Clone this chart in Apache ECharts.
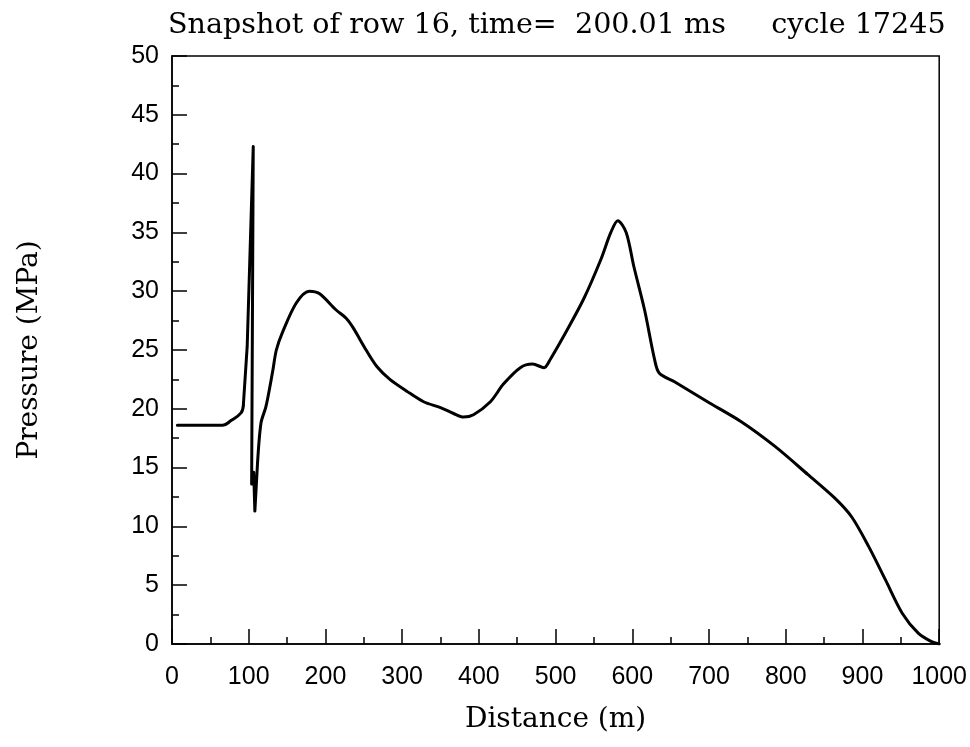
<!DOCTYPE html>
<html>
<head>
<meta charset="utf-8">
<script src="https://cdn.jsdelivr.net/npm/echarts@6/dist/echarts.min.js"></script>
<style>html,body{margin:0;padding:0;background:#fff}#c{width:970px;height:747px}</style>
</head>
<body>
<div id="c"></div>
<script>
const titleText = 'Snapshot of row 16, time=  200.01 ms     cycle 17245';
const xName = 'Distance (m)';
const yName = 'Pressure (MPa)';
const distance = [7, 30, 66, 77, 90, 93, 98, 105.9, 103.8, 106.5, 108, 111.5, 116, 122.5, 131, 136, 144, 162, 179, 192, 214, 227, 236, 253, 267, 284, 306, 328, 350, 367, 380, 393, 415, 432, 454, 470, 485, 493, 515, 537, 559, 572, 581, 592, 602, 616, 629, 635, 655, 698, 742, 786, 829, 864, 886, 908, 930, 952, 973, 990, 1000];
const pressure = [18.6, 18.6, 18.6, 19.0, 19.65, 20.3, 25.3, 42.3, 13.6, 14.6, 11.3, 15.4, 18.8, 20.2, 23.1, 25.0, 26.5, 29.0, 30.0, 29.8, 28.4, 27.7, 26.9, 25.0, 23.6, 22.5, 21.5, 20.6, 20.1, 19.6, 19.3, 19.5, 20.6, 22.1, 23.5, 23.8, 23.5, 24.2, 26.7, 29.4, 32.7, 35.0, 36.0, 35.0, 32.1, 28.4, 24.2, 23.05, 22.3, 20.6, 18.9, 16.8, 14.4, 12.4, 10.8, 8.3, 5.45, 2.6, 0.9, 0.2, 0];

const data = distance.map((d, i) => [d, pressure[i]]);
// Segments: smooth before the shock, sharp through the spike, smooth after it
const seg1 = data.slice(0, 6);
const seg2 = data.slice(5, 12);
const seg3 = data.slice(11);
const chart = echarts.init(document.getElementById('c'), null, {renderer: 'canvas'});
const serif = "'DejaVu Serif', serif";
const numFont = "'Liberation Sans', sans-serif";
const lineStyle = {color: '#000', width: 3, join: 'round', cap: 'round'};
chart.setOption({
  animation: false,
  backgroundColor: '#fff',
  title: {
    text: titleText, left: 163, top: 6,
    textStyle: {fontFamily: serif, fontSize: 28.6, fontWeight: 'normal', color: '#000'}
  },
  grid: {left: 172, right: 30, top: 56, bottom: 103, show: true, borderColor: '#000', borderWidth: 1.5, backgroundColor: 'transparent'},
  xAxis: {
    type: 'value', min: 0, max: 1000, interval: 100,
    name: xName, nameLocation: 'middle', nameGap: 62,
    nameTextStyle: {fontFamily: serif, fontSize: 28, color: '#000'},
    axisLine: {show: true, lineStyle: {color: '#000', width: 1.5}},
    axisTick: {show: true, inside: true, length: 15, lineStyle: {color: '#000', width: 1.5}},
    minorTick: {show: true, splitNumber: 2, length: 7, lineStyle: {color: '#000', width: 1.5}},
    splitLine: {show: false},
    axisLabel: {fontFamily: numFont, fontSize: 25, color: '#000', margin: 21, formatter: v => String(v)}
  },
  yAxis: {
    type: 'value', min: 0, max: 50, interval: 5,
    name: yName, nameLocation: 'middle', nameGap: 128, nameRotate: 90,
    nameTextStyle: {fontFamily: serif, fontSize: 28, color: '#000'},
    axisLine: {show: true, lineStyle: {color: '#000', width: 1.5}},
    axisTick: {show: true, inside: true, length: 15, lineStyle: {color: '#000', width: 1.5}},
    minorTick: {show: true, splitNumber: 2, length: 7, lineStyle: {color: '#000', width: 1.5}},
    splitLine: {show: false},
    axisLabel: {fontFamily: numFont, fontSize: 25, color: '#000', margin: 13, formatter: v => String(v)}
  },
  series: [
    {type: 'line', data: seg1, showSymbol: false, smooth: 0.4, lineStyle: lineStyle, z: 3},
    {type: 'line', data: seg2, showSymbol: false, smooth: false, lineStyle: lineStyle, z: 3},
    {type: 'line', data: seg3, showSymbol: false, smooth: 0.3, lineStyle: lineStyle, z: 3}
  ]
});
</script>
</body>
</html>
